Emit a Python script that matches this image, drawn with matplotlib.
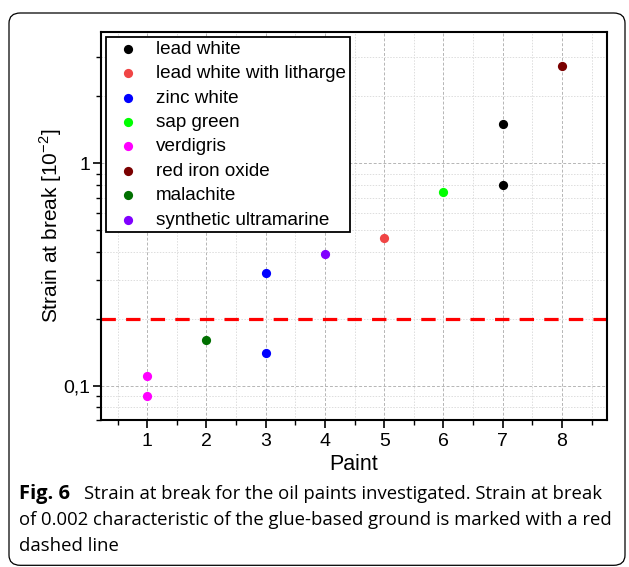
import matplotlib.pyplot as plt
from matplotlib.patches import FancyBboxPatch
from matplotlib.ticker import FixedLocator, NullFormatter, MultipleLocator

# data (paint number, strain at break in 10^-2)
names = ["lead white", "lead white with litharge", "zinc white", "sap green",
         "verdigris", "red iron oxide", "malachite", "synthetic ultramarine"]
colors = ["#000000", "#f04545", "#0000ff", "#00ff00",
          "#ff00ff", "#7a0000", "#007000", "#8000ff"]
paint = [[7, 7], [5], [3, 3], [6], [1, 1], [8], [2], [4]]
strain = [[1.5, 0.8], [0.46], [0.32, 0.14], [0.74], [0.11, 0.09], [2.73], [0.16], [0.39]]
glue_limit = 0.2

plt.rcParams['font.family'] = ['Liberation Sans', 'DejaVu Sans']

fig = plt.figure(figsize=(6.29, 5.67), dpi=100)

# rounded frame round the figure
frame = FancyBboxPatch((9 / 629, 0.003), 616 / 629, 1 - 13 / 567 - 0.003,
                       boxstyle="round,pad=0,rounding_size=0.018",
                       transform=fig.transFigure, fill=False,
                       edgecolor="black", linewidth=0.9)
fig.patches.append(frame)

ax = fig.add_axes([101 / 629, 1 - 420 / 567, 506 / 629, 388 / 567])

for n, c, x, y in zip(names, colors, paint, strain):
    ax.scatter(x, y, s=44, color=c, label=n, zorder=3, linewidths=0)

ax.axhline(glue_limit, color="red", linestyle=(0, (4.5, 3.2)), linewidth=2.3, zorder=2)

ax.set_yscale("log")
ax.set_ylim(0.07, 3.9)
ax.set_xlim(0.22, 8.76)

ax.xaxis.set_major_locator(MultipleLocator(1))
ax.xaxis.set_minor_locator(MultipleLocator(0.5))
ax.yaxis.set_major_locator(FixedLocator([0.1, 1]))
ax.yaxis.set_minor_locator(FixedLocator([0.07, 0.08, 0.09, 0.2, 0.3, 0.4, 0.5, 0.6,
                                         0.7, 0.8, 0.9, 2, 3]))
ax.set_yticklabels(["0,1", "1"])
ax.yaxis.set_minor_formatter(NullFormatter())

ax.tick_params(which="major", length=5.5, width=1.2, labelsize=14, direction="out")
ax.tick_params(axis="y", which="major", pad=2)
ax.tick_params(which="minor", length=3.5, width=1.0, direction="out")
for s in ax.spines.values():
    s.set_linewidth(1.5)

ax.grid(which="major", color="#b5b5b5", linestyle=(0, (3, 2)), linewidth=0.7)
ax.grid(which="minor", color="#dddddd", linestyle=(0, (1.5, 1.5)), linewidth=0.7)
ax.set_axisbelow(True)

ax.set_xlabel("Paint", fontsize=15.5, labelpad=3)
ax.set_ylabel("Strain at break [10$^{\\mathregular{-2}}$]", fontsize=15, labelpad=0)

leg = ax.legend(loc="upper left", fontsize=13.6, frameon=True, fancybox=False,
                edgecolor="black", borderaxespad=0.25, handletextpad=0.45,
                labelspacing=0.38, borderpad=0.2, scatterpoints=1)
leg.get_frame().set_linewidth(1.3)
leg.get_frame().set_alpha(1)

cap_font = ['Open Sans', 'DejaVu Sans']
fig.text(19 / 629, 1 - 494 / 567, "Fig. 6", fontsize=14.5, fontweight="bold",
         family=cap_font, va="center", ha="left")
fig.text(84 / 629, 1 - 494 / 567, "Strain at break for the oil paints investigated. Strain at break",
         fontsize=13.3, family=cap_font, va="center", ha="left")
fig.text(19 / 629, 1 - 520 / 567,
         "of 0.002 characteristic of the glue-based ground is marked with a red",
         fontsize=13.3, family=cap_font, va="center", ha="left")
fig.text(19 / 629, 1 - 546 / 567, "dashed line", fontsize=13.3, family=cap_font,
         va="center", ha="left")

fig.savefig("out.png", dpi=100)
